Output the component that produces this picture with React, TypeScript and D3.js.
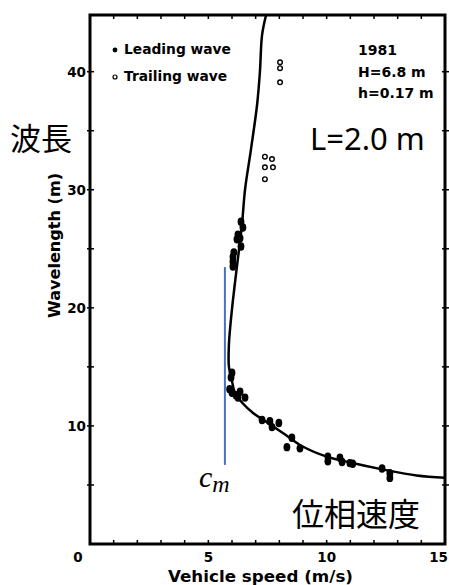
import React from 'react';
import * as d3 from 'd3';

// theoretical curve, [speed (m/s), wavelength (m)], ordered along the curve
const curvePts: [number, number][] = [
  [7.44, 44.8], [7.27, 43.1], [7.18, 40.0], [7.06, 37.2], [6.8, 33.4], [6.55, 30.0],
  [6.42, 27.0], [6.3, 25.0], [6.0, 19.9], [5.87, 16.9], [5.87, 15.0], [5.96, 14.2],
  [6.13, 12.8], [6.46, 11.9], [6.89, 11.1], [7.48, 10.3], [8.15, 9.4], [8.95, 8.3],
  [10.0, 7.4], [11.0, 6.9], [12.4, 6.3], [13.8, 5.8], [15.0, 5.6],
];

const leading: [number, number][] = [
  [6.38, 27.3], [6.46, 26.8], [6.25, 26.2], [6.34, 25.9], [6.21, 25.8], [6.38, 25.2],
  [6.08, 24.7], [6.04, 24.3], [6.04, 23.9], [6.04, 23.5],
  [6.0, 14.5], [5.96, 14.1], [5.9, 13.1], [6.0, 12.8], [6.17, 12.6], [6.34, 12.9],
  [6.55, 12.4], [6.25, 12.4],
  [7.27, 10.5], [7.6, 10.4], [7.98, 10.25], [7.69, 9.9], [8.53, 9.0], [8.32, 8.2], [8.87, 8.1],
  [10.05, 7.4], [10.05, 7.0], [10.56, 7.3], [10.65, 6.95], [10.98, 6.85], [11.1, 6.8],
  [12.34, 6.4], [12.67, 6.0], [12.67, 5.6],
];

const trailing: [number, number][] = [
  [8.03, 40.8], [8.03, 40.3], [8.03, 39.1],
  [7.39, 32.8], [7.69, 32.6], [7.39, 31.9], [7.73, 31.9], [7.39, 30.9],
];

const xTickLabels = [0, 5, 10, 15];
const yTickLabels = [10, 20, 30, 40];
const cmSpeed = 5.7;
const cmRange = [6.7, 23.45];
const infoLines = ['1981', 'H=6.8 m', 'h=0.17 m'];

const W = 449, H = 585;
const left = 90, right = 445, top = 15, bottom = 544;
const font = 'DejaVu Sans, sans-serif';

export default function App() {
  const x = d3.scaleLinear().domain([0, 15]).range([left, right]);
  const y = d3.scaleLinear().domain([0, 44.8]).range([bottom, top]);
  const line = d3.line<[number, number]>().x(d => x(d[0])).y(d => y(d[1])).curve(d3.curveCatmullRom);

  const xMinor = d3.range(0, 16, 1);
  const yMinor = d3.range(5, 45, 5);

  return (
    <svg width={W} height={H} style={{ position: 'absolute', left: 0, top: 0, background: '#fff' }}>
      <defs>
        <clipPath id="plot"><rect x={left} y={top} width={right - left} height={bottom - top} /></clipPath>
      </defs>

      {/* ticks */}
      {xMinor.map(v => (
        <g key={'xt' + v}>
          <line x1={x(v)} x2={x(v)} y1={bottom} y2={bottom - 4} stroke="#000" strokeWidth={1.5} />
          <line x1={x(v)} x2={x(v)} y1={top} y2={top + 4} stroke="#000" strokeWidth={1.5} />
        </g>
      ))}
      {yMinor.map(v => (
        <g key={'yt' + v}>
          <line x1={left - 3} x2={left + 4} y1={y(v)} y2={y(v)} stroke="#000" strokeWidth={1.5} />
          <line x1={right - 3} x2={right + 4} y1={y(v)} y2={y(v)} stroke="#000" strokeWidth={1.5} />
        </g>
      ))}

      {/* frame */}
      <rect x={left} y={top} width={right - left} height={bottom - top} fill="none" stroke="#000" strokeWidth={3} />

      {/* tick labels */}
      {xTickLabels.map((v, i) => (
        <text key={'xl' + v}
          x={i === 0 ? x(v) - 12 : i === xTickLabels.length - 1 ? 448 : x(v)} y={562}
          textAnchor={i === xTickLabels.length - 1 ? 'end' : 'middle'}
          fontFamily={font} fontWeight="bold" fontSize={13.5}>{v}</text>
      ))}
      {yTickLabels.map(v => (
        <text key={'yl' + v} x={86} y={y(v) + 5} textAnchor="end"
          fontFamily={font} fontWeight="bold" fontSize={13.5}>{v}</text>
      ))}

      <text x={168} y={582} textLength={185} lengthAdjust="spacingAndGlyphs"
        fontFamily={font} fontWeight="bold" fontSize={16}>
        Vehicle speed (m/s)
      </text>
      <text transform={`translate(60,318) rotate(-90)`} textLength={145} lengthAdjust="spacingAndGlyphs"
        fontFamily={font} fontWeight="bold" fontSize={16}>
        Wavelength (m)
      </text>

      <g clipPath="url(#plot)">
        <path d={line(curvePts) || ''} fill="none" stroke="#000" strokeWidth={2.5} />
        {leading.map((d, i) => (
          <ellipse key={'l' + i} cx={x(d[0])} cy={y(d[1])} rx={3.4} ry={4.2} fill="#000" />
        ))}
        {trailing.map((d, i) => (
          <circle key={'t' + i} cx={x(d[0])} cy={y(d[1])} r={2.3} fill="#fff" stroke="#000" strokeWidth={1.4} />
        ))}
      </g>

      {/* legend */}
      <circle cx={115} cy={50} r={2.4} fill="#000" />
      <text x={124} y={54} fontFamily={font} fontWeight="bold" fontSize={13.8}>Leading wave</text>
      <circle cx={115} cy={77} r={2} fill="#fff" stroke="#000" strokeWidth={1.2} />
      <text x={124} y={81} fontFamily={font} fontWeight="bold" fontSize={13.8}>Trailing wave</text>

      {infoLines.map((t, i) => (
        <text key={t} x={358} y={55 + i * 21.5} fontFamily={font} fontWeight="bold" fontSize={14}>{t}</text>
      ))}

      <text x={310} y={150} fontFamily="Noto Sans, sans-serif" fontSize={31}>L=2.0 m</text>

      {/* c_m marker */}
      <line x1={x(cmSpeed)} x2={x(cmSpeed)} y1={y(cmRange[1])} y2={y(cmRange[0])} stroke="#4472C4" strokeWidth={2} />
      <text x={199} y={487} fontFamily="Liberation Serif, serif" fontStyle="italic" fontSize={30}>
        c<tspan fontSize={24} dy={5}>m</tspan>
      </text>

      <text x={10} y={150} fontFamily="Noto Sans CJK JP" fontSize={31}>波長</text>
      <text x={292} y={526} fontFamily="Noto Sans CJK JP" fontSize={32}>位相速度</text>
    </svg>
  );
}
